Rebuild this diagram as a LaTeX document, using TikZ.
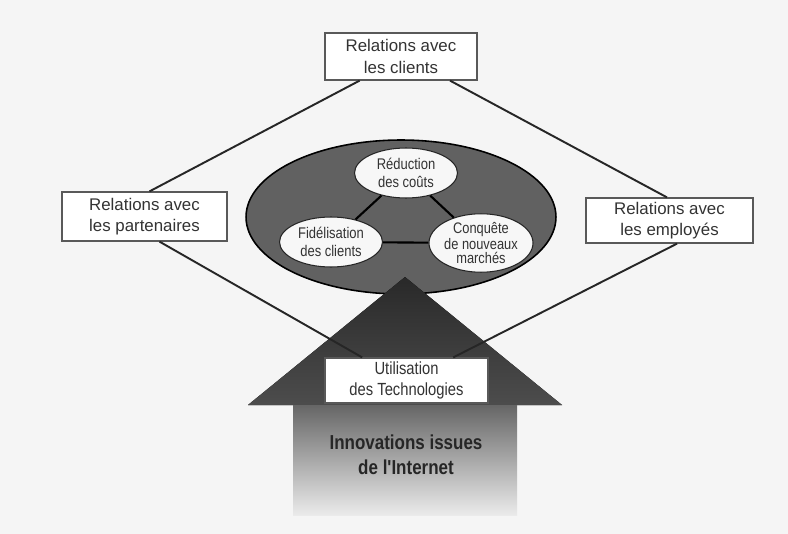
\documentclass[tikz,border=0pt]{standalone}
\usepackage{fontspec}
\setmainfont{Liberation Sans}
\newfontfamily\etroite{Liberation Sans}[FakeStretch=0.84]
\usetikzlibrary{shapes.geometric,calc}

\begin{document}
\begin{tikzpicture}[
    x=0.02cm, y=-0.02cm,
    relation/.style={draw=black!65, line width=0.7pt, fill=white, align=center,
      inner sep=0pt, text=black!80, font=\fontsize{9.6}{12}\selectfont},
    objectif/.style={ellipse, draw=black!85, semithick, fill=black!3, align=center,
      inner sep=0pt, minimum width=2.06cm, minimum height=1cm, text=black!80,
      font=\etroite\fontsize{8.8}{10.4}\selectfont},
    lien/.style={draw=black!85, line width=1.1pt}
  ]

    % --- Fond ---
    \fill[black!4] (0,0) rectangle (788,534);
    \useasboundingbox (0,0) rectangle (788,534);

    % --- Ellipse centrale et objectifs ---
    \node[ellipse, draw=black, line width=0.9pt, fill=black!62, minimum width=6.2cm,
      minimum height=3.08cm] (noyau) at (401,217) {};

    \node[objectif] (couts) at (406,173) {Réduction\\des coûts};
    \node[objectif] (fidelisation) at (331,242) {Fidélisation\\des clients};
    \node[objectif, minimum width=2.04cm, font=\etroite\fontsize{8.7}{8}\selectfont]
      (conquete) at (481,243) {Conquête\\de nouveaux\\marchés};

    \draw[black, line width=1.2pt] (couts) -- (fidelisation);
    \draw[black, line width=1.2pt] (couts) -- (conquete);
    \draw[black, line width=1.2pt] (fidelisation) -- (conquete);

    % --- Grande flèche ---
    \coordinate (pointe) at (405,277);
    \fill[top color=black!84, bottom color=black!70] (pointe) -- (562,405) -- (248,405) -- cycle;
    \shade[top color=black!60, bottom color=black!8] (293,405) rectangle (517,515);
    \node[font=\etroite\bfseries\fontsize{11.5}{14}\selectfont, text=black!85, align=center]
      (innovations) at (406,455) {Innovations issues\\de l'Internet};

    % --- Relations ---
    \node[relation, minimum width=3.04cm, minimum height=0.94cm] (clients) at (401,56.5)
      {Relations avec\\les clients};
    \node[relation, minimum width=3.3cm, minimum height=0.98cm] (partenaires) at (144.5,216.5)
      {Relations avec\\les partenaires};
    \node[relation, minimum width=3.34cm, minimum height=0.9cm] (employes) at (669.5,220.5)
      {Relations avec\\les employés};
    \node[relation, minimum width=3.26cm, minimum height=0.9cm,
      font=\etroite\fontsize{10}{11.5}\selectfont] (technologies) at (406.5,380.5)
      {Utilisation\\des Technologies};

    % Losange des relations
    \draw[lien] ($(clients.south west)!0.23!(clients.south east)$)
      -- ($(partenaires.north west)!0.53!(partenaires.north east)$);
    \draw[lien] ($(clients.south west)!0.82!(clients.south east)$)
      -- ($(employes.north west)!0.485!(employes.north east)$);
    \draw[lien] ($(partenaires.south west)!0.59!(partenaires.south east)$)
      -- ($(technologies.north west)!0.23!(technologies.north east)$);
    \draw[lien] ($(employes.south west)!0.545!(employes.south east)$)
      -- ($(technologies.north west)!0.785!(technologies.north east)$);

  \end{tikzpicture}
\end{document}
